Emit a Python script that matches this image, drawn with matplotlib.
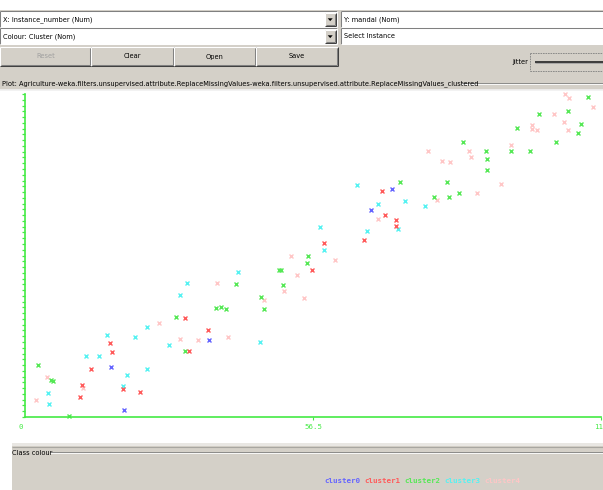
import matplotlib
matplotlib.use("Agg")
import matplotlib.pyplot as plt
from matplotlib.patches import Rectangle, Polygon

# Instance_number (x) vs mandal index (y), per cluster
c0_x = [19.5, 16.8, 36.0, 72.0, 67.9]
c0_y = [1.2, 8.7, 13.4, 39.5, 35.9]

c1_x = [12.9, 16.7, 17.0, 11.1, 10.8, 19.3, 22.6, 31.4, 35.9, 32.2, 56.4,
        70.0, 70.6, 72.7, 72.8, 66.5, 58.6]
c1_y = [8.4, 12.9, 11.3, 5.5, 3.5, 4.9, 4.4, 17.2, 15.1, 11.4, 25.5,
        39.2, 35.0, 34.2, 33.2, 30.7, 30.2]

c2_x = [2.5, 5.1, 5.4, 8.6, 29.7, 31.4, 37.5, 38.5, 39.4, 41.3, 46.3, 46.9,
        49.8, 50.2, 50.7, 55.5, 55.4, 73.5, 82.7, 80.2, 83.1, 85.2, 86.0,
        90.4, 90.7, 90.7, 95.3, 96.5, 99.1, 100.8, 104.2, 106.5, 108.4,
        109.1, 110.5]
c2_y = [9.0, 6.4, 6.3, 0.1, 17.3, 11.4, 18.9, 19.1, 18.7, 23.1, 20.8, 18.8,
        25.5, 25.4, 22.9, 28.0, 26.7, 40.8, 40.8, 38.1, 38.1, 38.9, 47.6,
        46.1, 44.7, 42.8, 46.1, 50.1, 46.1, 52.6, 47.7, 53.1, 49.3,
        50.8, 55.5]

c3_x = [4.5, 4.8, 12.0, 14.5, 16.1, 20.0, 19.3, 21.6, 23.9, 23.9, 28.2,
        30.5, 31.8, 41.8, 46.1, 57.9, 58.7, 65.1, 67.0, 69.2, 73.2, 74.6,
        78.4]
c3_y = [4.2, 2.3, 10.6, 10.5, 14.2, 7.2, 5.4, 13.9, 15.6, 8.3, 12.5,
        21.2, 23.2, 25.1, 13.0, 33.0, 28.9, 40.2, 32.2, 36.9, 32.6, 37.5,
        36.6]

c4_x = [4.4, 2.2, 11.3, 26.3, 30.5, 33.9, 37.7, 39.9, 46.9, 50.8, 52.2,
        53.3, 54.8, 60.8, 69.3, 79.1, 80.8, 81.8, 83.4, 87.1, 87.4, 88.7,
        93.3, 95.3, 99.5, 99.5, 100.5, 103.7, 105.7, 105.9, 106.7, 106.5,
        111.4]
c4_y = [6.9, 2.9, 5.0, 16.3, 13.5, 13.4, 23.3, 13.8, 20.3, 21.8, 27.9,
        24.6, 20.6, 27.3, 34.4, 46.1, 37.7, 44.4, 44.2, 46.2, 45.1, 38.9,
        40.4, 47.1, 50.7, 50.0, 49.8, 52.5, 51.2, 56.0, 55.3, 49.8,
        53.8]

cluster_names = ["cluster0", "cluster1", "cluster2", "cluster3", "cluster4"]
cluster_colors = ["#6464ff", "#ff5a5a", "#55e855", "#55f2f2", "#ffc6c6"]
xs = [c0_x, c1_x, c2_x, c3_x, c4_x]
ys = [c0_y, c1_y, c2_y, c3_y, c4_y]

n_mandal = 57
x_max = 113

GRAY = "#d4d0c8"
DARK = "#808080"
AXIS_GREEN = "#44ea44"
FS = 4.8

fig = plt.figure(figsize=(6.03, 4.90), dpi=100)
fig.patch.set_facecolor("white")

# ---- GUI chrome, drawn in pixel coordinates ----
bg = fig.add_axes([0, 0, 1, 1], zorder=0)
bg.set_xlim(0, 603)
bg.set_ylim(490, 0)
bg.axis("off")


def hline(x0, x1, y, c, lw=0.75, ls="-"):
    bg.plot([x0, x1], [y, y], color=c, lw=lw, ls=ls, solid_capstyle="butt")


def vline(x, y0, y1, c, lw=0.75, ls="-"):
    bg.plot([x, x], [y0, y1], color=c, lw=lw, ls=ls, solid_capstyle="butt")


def raised(x0, y0, x1, y1):
    bg.add_patch(Rectangle((x0, y0), x1 - x0, y1 - y0, fc=GRAY, ec="none"))
    hline(x0, x1, y0, "white")
    vline(x0, y0, y1, "white")
    hline(x0, x1, y1, "#404040")
    vline(x1, y0, y1, "#404040")
    hline(x0 + 1, x1 - 1, y1 - 1, DARK)
    vline(x1 - 1, y0 + 1, y1 - 1, DARK)


def combo(x0, y0, x1, y1, label, arrow=True):
    bg.add_patch(Rectangle((x0, y0), x1 - x0, y1 - y0, fc="white", ec="none"))
    hline(x0, x1, y0, DARK)
    vline(x0, y0, y1, DARK)
    hline(x0, x1, y1, "white")
    vline(x1, y0, y1, "white")
    bg.text(x0 + 3, (y0 + y1) / 2, label, fontsize=FS, va="center",
            ha="left", color="black")
    if arrow:
        raised(x1 - 12, y0 + 1.5, x1 - 1.5, y1 - 1.5)
        cx, cy = x1 - 6.8, (y0 + y1) / 2
        bg.add_patch(Polygon([[cx - 2.5, cy - 1.2], [cx + 2.5, cy - 1.2],
                              [cx, cy + 1.6]], closed=True, fc="black",
                             ec="none"))


# gray control area
bg.add_patch(Rectangle((0, 10), 603, 80, fc=GRAY, ec="none"))
hline(0, 603, 90, "#f0f0f0", lw=1.2)

combo(0, 11.5, 337, 27.5, "X: Instance_number (Num)")
combo(341, 11.5, 603, 27.5, "Y: mandal (Nom)", arrow=False)
combo(0, 28.5, 337, 44.5, "Colour: Cluster (Nom)")
combo(341, 28.5, 603, 44.5, "Select Instance", arrow=False)

buttons = ["Reset", "Clear", "Open", "Save"]
edges = [0, 91, 174, 256, 338]
for i, b in enumerate(buttons):
    raised(edges[i], 47, edges[i + 1], 66)
    col = "#a0a0a0" if b == "Reset" else "black"
    bg.text((edges[i] + edges[i + 1]) / 2, 56.5, b, fontsize=FS, ha="center",
            va="center", color=col)

# jitter slider
bg.text(512, 62, "Jitter", fontsize=FS, ha="left", va="center")
hline(530, 603, 53, DARK, lw=0.6, ls=(0, (2, 1)))
hline(530, 603, 71, DARK, lw=0.6, ls=(0, (2, 1)))
vline(530, 53, 71, DARK, lw=0.6, ls=(0, (2, 1)))
hline(535, 603, 62, "#303030", lw=1.3)
hline(535, 603, 63.5, "#a0a0a0", lw=0.6)

# plot title border
bg.text(2, 83.5, "Plot: Agriculture-weka.filters.unsupervised.attribute."
        "ReplaceMissingValues-weka.filters.unsupervised.attribute."
        "ReplaceMissingValues_clustered", fontsize=FS, ha="left", va="center")
hline(461, 603, 83, DARK, lw=0.6)
hline(461, 603, 84, "white", lw=0.6)

# class colour panel
bg.add_patch(Rectangle((12, 442.5), 591, 47.5, fc=GRAY, ec="none"))
bg.add_patch(Rectangle((12, 442.5), 591, 3, fc="#e9e7e3", ec="none"))
hline(12, 603, 446.5, "#a8a6a0", lw=0.8)
bg.text(12, 452.5, "Class colour", fontsize=FS, ha="left", va="center")
hline(50, 603, 452, DARK, lw=0.6)
hline(50, 603, 453, "white", lw=0.6)

for i, (name, col) in enumerate(zip(cluster_names, cluster_colors)):
    bg.text(324 + i * 40, 480.5, name, fontsize=5.4, family="DejaVu Sans Mono",
            ha="left", va="center", color=col, fontweight="bold")

# ---- scatter plot ----
ax = fig.add_axes([25 / 603, 73 / 490, 576 / 603, 323 / 490], zorder=1)
ax.patch.set_visible(False)
ax.set_xlim(0, x_max)
ax.set_ylim(0, n_mandal - 1)

for x, y, col in list(zip(xs, ys, cluster_colors))[::-1]:
    ax.plot(x, y, "x", color=col, ms=3.0, mew=1.0, clip_on=False)

for s in ["top", "right"]:
    ax.spines[s].set_visible(False)
for s in ["left", "bottom"]:
    ax.spines[s].set_color(AXIS_GREEN)
    ax.spines[s].set_linewidth(1.2)

ax.set_yticks(range(n_mandal))
ax.set_yticklabels([])
ax.tick_params(axis="y", direction="out", length=2.3, width=0.9,
               color=AXIS_GREEN)

ax.set_xticks([x_max / 2, x_max])
ax.set_xticklabels(["56.5", str(x_max)])
ax.tick_params(axis="x", direction="out", length=2.3, width=0.8,
               color=AXIS_GREEN, labelcolor=AXIS_GREEN, labelsize=5.3, pad=3)
for lab in ax.get_xticklabels():
    lab.set_family("DejaVu Sans Mono")
ax.text(-0.75, -1.75, "0", fontsize=5.3, family="DejaVu Sans Mono",
        color=AXIS_GREEN, ha="center", va="center")

fig.savefig("out.png", dpi=100)
